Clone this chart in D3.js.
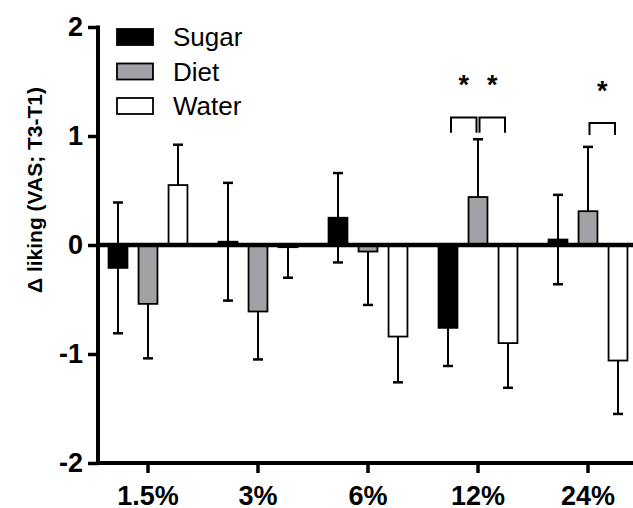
<!DOCTYPE html>
<html>
<head>
<meta charset="utf-8">
<script src="https://cdn.jsdelivr.net/npm/d3@7"></script>
<style>
  body { margin: 0; background: #fff; }
  svg { display: block; }
  text { font-family: Arial, "Liberation Sans", sans-serif; }
</style>
</head>
<body>
<div id="chart"></div>
<script>
// data
var categories = ["1.5%", "3%", "6%", "12%", "24%"];
var series = ["Sugar", "Diet", "Water"];
var sugarMean = [-0.21, 0.03, 0.25, -0.76, 0.05];
var sugarSD = [0.60, 0.54, 0.41, 0.35, 0.41];
var dietMean = [-0.54, -0.61, -0.06, 0.44, 0.31];
var dietSD = [0.50, 0.44, 0.49, 0.53, 0.59];
var waterMean = [0.55, -0.02, -0.84, -0.90, -1.06];
var waterSD = [0.37, 0.28, 0.42, 0.41, 0.49];
var yTicks = [-2, -1, 0, 1, 2];
// significance brackets: category, from series, to series
var sigPairs = [
  { cat: "12%", a: "Sugar", b: "Diet", top: 1.17, leg: 1.03, star: 1.52 },
  { cat: "12%", a: "Diet", b: "Water", top: 1.17, leg: 1.03, star: 1.52 },
  { cat: "24%", a: "Diet", b: "Water", top: 1.12, leg: 1.01, star: 1.47 }
];

var width = 633, height = 508;
var axisX = 98;

var svg = d3.select("#chart").append("svg")
  .attr("width", width)
  .attr("height", height);

var fills = { Sugar: "#000000", Diet: "#a2a2a6", Water: "#ffffff" };
var means = { Sugar: sugarMean, Diet: dietMean, Water: waterMean };
var sds = { Sugar: sugarSD, Diet: dietSD, Water: waterSD };

var rows = [];
series.forEach(function(s) {
  categories.forEach(function(c, i) {
    rows.push({ s: s, c: c, v: means[s][i], sd: sds[s][i] });
  });
});

// scales
var x = d3.scaleBand().domain(categories).range([93, 643]).padding(0);
var xs = d3.scaleBand().domain(series).range([-45, 45]).paddingInner(0.37).paddingOuter(0.185);
var y = d3.scaleLinear().domain([-2, 2]).range([463, 27]);

function cx(d) { return x(d.c) + x.bandwidth() / 2 + xs(d.s) + xs.bandwidth() / 2; }

// error bars (behind bars). Sugar shows both sides, others away from zero
var err = svg.append("g").attr("stroke", "#000").attr("stroke-width", 2);
rows.forEach(function(d) {
  var dir = d.v >= 0 ? 1 : -1;
  var end = d.v + dir * d.sd;
  var start = d.s === "Sugar" ? d.v - dir * d.sd : d.v;
  err.append("line")
    .attr("x1", cx(d)).attr("x2", cx(d))
    .attr("y1", y(start)).attr("y2", y(end));
  err.append("line")
    .attr("x1", cx(d) - 5).attr("x2", cx(d) + 5)
    .attr("y1", y(end)).attr("y2", y(end))
    .attr("stroke-width", 2.5);
  if (d.s === "Sugar") {
    err.append("line")
      .attr("x1", cx(d) - 5).attr("x2", cx(d) + 5)
      .attr("y1", y(start)).attr("y2", y(start))
      .attr("stroke-width", 2.5);
  }
});

// bars
svg.append("g").selectAll("rect").data(rows).enter().append("rect")
  .attr("x", function(d) { return cx(d) - xs.bandwidth() / 2; })
  .attr("y", function(d) { return y(Math.max(0, d.v)); })
  .attr("width", xs.bandwidth())
  .attr("height", function(d) { return Math.max(1.5, Math.abs(y(d.v) - y(0))); })
  .attr("fill", function(d) { return fills[d.s]; })
  .attr("stroke", "#000")
  .attr("stroke-width", 1.8);

// zero line
svg.append("line")
  .attr("x1", axisX).attr("x2", width)
  .attr("y1", y(0)).attr("y2", y(0))
  .attr("stroke", "#000").attr("stroke-width", 4.5);

// y axis
var yAxis = d3.axisLeft(y).tickValues(yTicks).tickSize(10).tickPadding(5).tickFormat(d3.format("d"));
var gy = svg.append("g").attr("transform", "translate(" + axisX + ",0)").call(yAxis);
gy.select(".domain").remove();
gy.selectAll(".tick line").attr("stroke-width", 3.5);
gy.selectAll(".tick text")
  .attr("font-size", 27).attr("font-weight", "bold")
  .attr("font-family", "Arial, 'Liberation Sans', sans-serif")
  .attr("fill", "#000");
gy.selectAll(".tick text").text(function(d) { return d < 0 ? "-" + Math.abs(d) : d; });
svg.append("line")
  .attr("x1", axisX).attr("x2", axisX)
  .attr("y1", y(2) - 1.5).attr("y2", y(-2) + 2)
  .attr("stroke", "#000").attr("stroke-width", 4);

// x axis
var xAxis = d3.axisBottom(x).tickSize(10).tickPadding(13);
var gx = svg.append("g").attr("transform", "translate(0," + y(-2) + ")").call(xAxis);
gx.select(".domain").remove();
gx.selectAll(".tick line").attr("stroke-width", 3.5);
gx.selectAll(".tick text")
  .attr("font-size", 27).attr("font-weight", "bold")
  .attr("font-family", "Arial, 'Liberation Sans', sans-serif")
  .attr("fill", "#000");
svg.append("line")
  .attr("x1", axisX - 2).attr("x2", width)
  .attr("y1", y(-2)).attr("y2", y(-2))
  .attr("stroke", "#000").attr("stroke-width", 4);

// y axis title
svg.append("text")
  .attr("transform", "translate(41.5,190) rotate(-90)")
  .attr("text-anchor", "middle")
  .attr("font-size", 21)
  .attr("font-weight", "bold")
  .text("\u0394 liking (VAS; T3-T1)");

// significance brackets
var sig = svg.append("g");
sigPairs.forEach(function(p) {
  var xa = cx({ c: p.cat, s: p.a }) + 3;
  var xb = cx({ c: p.cat, s: p.b }) - 3;
  if (p.a === "Diet") xa = cx({ c: p.cat, s: p.a }) + 1.5;
  if (p.b === "Diet") xb = cx({ c: p.cat, s: p.b }) - 1.5;
  sig.append("path")
    .attr("d", "M" + xa + "," + y(p.leg) + "V" + y(p.top) + "H" + xb + "V" + y(p.leg))
    .attr("fill", "none").attr("stroke", "#000").attr("stroke-width", 2);
  sig.append("text")
    .attr("x", (xa + xb) / 2)
    .attr("y", y(p.star) + 15)
    .attr("text-anchor", "middle")
    .attr("font-size", 27)
    .attr("font-weight", "bold")
    .text("*");
});

// legend
var legend = svg.append("g").attr("transform", "translate(117,29)");
series.forEach(function(s, i) {
  var g = legend.append("g").attr("transform", "translate(0," + (i * 34.5) + ")");
  g.append("rect")
    .attr("width", 36).attr("height", 16)
    .attr("fill", fills[s]).attr("stroke", "#000").attr("stroke-width", 1.8);
  g.append("text")
    .attr("x", 56).attr("y", 17)
    .attr("font-size", 26)
    .text(s);
});
</script>
</body>
</html>
